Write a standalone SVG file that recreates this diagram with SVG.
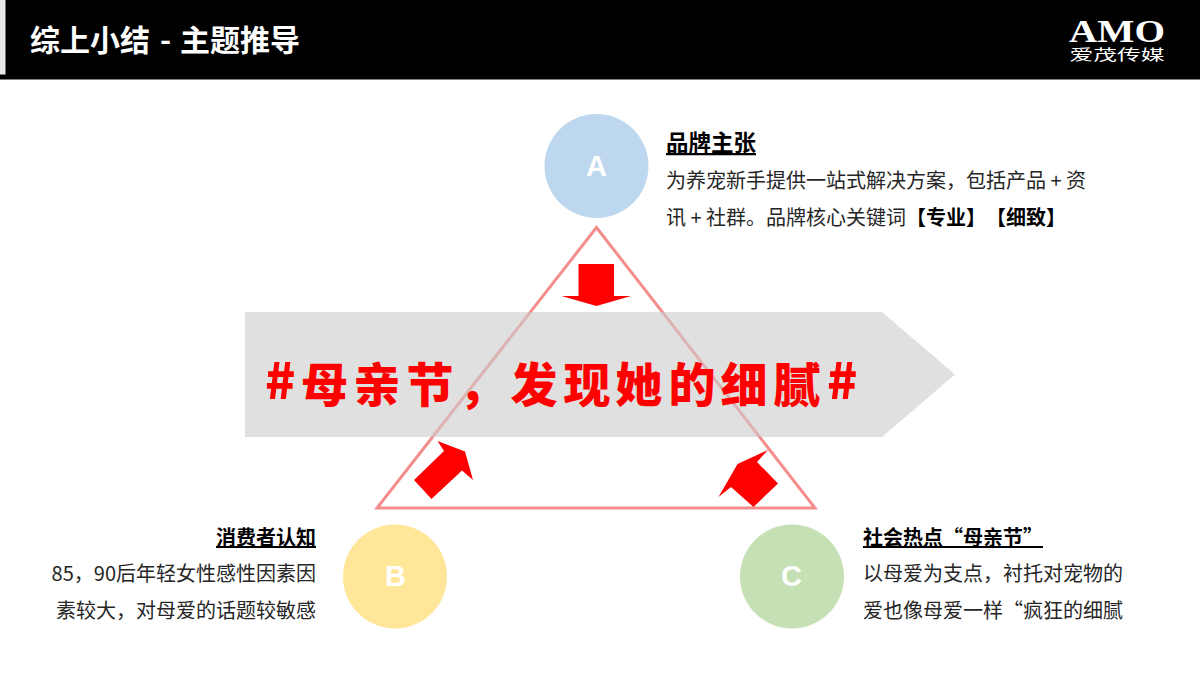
<svg xmlns="http://www.w3.org/2000/svg" width="1200" height="675" viewBox="0 0 1200 675">
<style>
text{font-family:"Noto Sans CJK SC","Noto Sans",sans-serif;text-spacing-trim:space-all}
.h{font-size:20px;font-weight:700;fill:#000;text-decoration:underline}
.b{font-size:20px;fill:#262626}
.l{font-size:29px;font-weight:700;fill:#fff;text-anchor:middle;font-family:"Liberation Sans",Arial,sans-serif}
.ar{fill:#ff0000}
</style>
<rect width="1200" height="675" fill="#fff"/>
<g id="header">
<rect width="1200" height="79.500" fill="#000"/>
<rect width="5.500" height="74.500" fill="#e8e8e8"/>
<text x="30" y="51" font-size="30" font-weight="700" fill="#fff">综上小结<tspan x="160">-</tspan><tspan x="180">主题推导</tspan></text>
</g>
<g id="logo">
<text x="1117" y="42" font-size="31" font-weight="700" fill="#fff" text-anchor="middle" textLength="96" lengthAdjust="spacingAndGlyphs" style="font-family:'Liberation Serif',serif">AMO</text>
<text x="1117" y="60" font-size="15" fill="#fff" text-anchor="middle" textLength="95" lengthAdjust="spacingAndGlyphs">爱茂传媒</text>
</g>
<g id="connectors">
<polygon points="596.500,227.500 815,508 377,508" fill="none" stroke="#ee1c1c" stroke-opacity=".5" stroke-width="3"/>
<polygon class="ar" points="578.500,264 614,264 614,296 631,296 596.500,306 561.500,296 578.500,296"/>
<polygon class="ar" points="431.500,499 414,480 444,451 437.500,441 465,451.500 473,480 462,470.500"/>
<polygon class="ar" points="753.500,507 778,483.500 757,462 768,450 737.500,464 718.500,497 731,487"/>
</g>
<g id="banner">
<polygon points="245,312 882,312 955,374.500 882,437 245,437" fill="#cbcbcb" fill-opacity=".6"/>
<text y="402" font-size="47" font-weight="900" fill="#ff0000"><tspan x="265" font-size="50" y="399">#</tspan><tspan y="402" x="301 353.500 406.500 458.500 510.500 563.500 615.500 668.500 720.500 773.500">母亲节，发现她的细腻</tspan><tspan x="827" font-size="50" y="399">#</tspan></text>
</g>
<g id="node-a">
<circle cx="596.500" cy="166" r="52" fill="#bdd7ee"/>
<text class="l" x="596.500" y="176">A</text>
<text class="h" x="666" y="151" style="font-size:22.500px">品牌主张</text>
<text class="b" x="666" y="188">为养宠新手提供一站式解决方案，包括产品 + 资</text>
<text class="b" x="666" y="225">讯 + 社群。品牌核心关键词<tspan font-weight="700" fill="#000">【专业】【细致】</tspan></text>
</g>
<g id="node-b">
<circle cx="395" cy="576.500" r="52" fill="#ffe699"/>
<text class="l" x="395.500" y="586">B</text>
<text class="h" x="316" y="545" text-anchor="end">消费者认知</text>
<text class="b" x="316" y="581" text-anchor="end">85，90后年轻女性感性因素因</text>
<text class="b" x="316" y="618" text-anchor="end">素较大，对母爱的话题较敏感</text>
</g>
<g id="node-c">
<circle cx="792" cy="576.500" r="52" fill="#c5e0b4"/>
<text class="l" x="791.500" y="586">C</text>
<text class="h" x="863" y="545">社会热点“母亲节”</text>
<text class="b" x="863" y="581">以母爱为支点，衬托对宠物的</text>
<text class="b" x="863" y="618">爱也像母爱一样“疯狂的细腻</text>
</g>
</svg>
